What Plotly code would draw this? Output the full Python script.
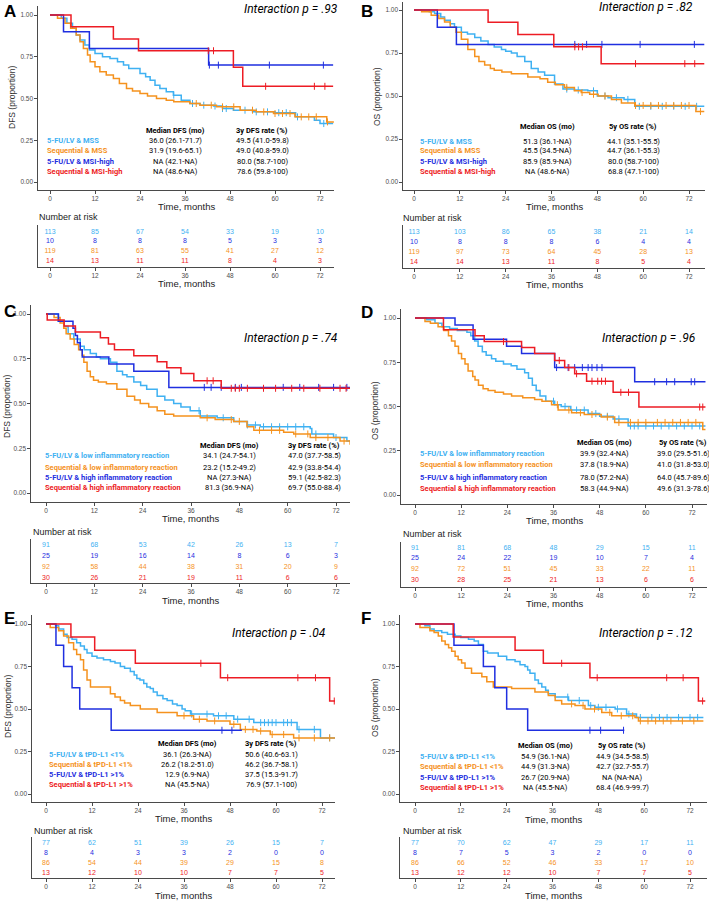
import plotly.graph_objects as go

W, H = 709, 901
LB, OR, BL, RD = '#3fb1f2', '#f5921e', '#1f2fe0', '#ed1c24'
NARROW = 'Liberation Sans Narrow, Roboto, Arial'
SANS = 'Liberation Sans, Arial'

months = [0, 12, 24, 36, 48, 60, 72]

# ---------------- A: DFS, MSS / MSI-high
a_lb_t = [0, 3, 4.5, 6, 7, 8, 9.3, 10.5, 12, 14, 16, 18, 19.6, 21, 24, 25.5, 26.7, 28, 29.3, 31, 32.9, 35, 37.3, 40, 43.6, 46, 48.9, 54, 60, 65.5, 70.5, 72, 75.5]
a_lb_s = [1, .98, .95, .92, .88, .85, .82, .79, .77, .75, .74, .72, .70, .68, .65, .63, .61, .58, .56, .54, .52, .49, .47, .46, .455, .44, .43, .42, .415, .39, .37, .35, .35]
a_lb_c = [33, 38, 41, 44, 46, 47, 52, 55, 58, 61, 63, 66, 73]
a_or_t = [0, 2, 4, 5.5, 7, 8, 8.9, 10, 10.7, 12, 13.3, 15, 16.9, 18.5, 20.4, 22, 24, 26, 28.4, 31, 33, 37.3, 40, 44.4, 50.7, 55, 59.6, 65.3, 73.8, 75.5]
a_or_s = [1, .98, .95, .92, .88, .84, .80, .76, .72, .69, .66, .64, .62, .59, .56, .545, .53, .515, .50, .49, .48, .47, .46, .45, .43, .42, .41, .39, .36, .355]
a_or_c = [39, 43, 46, 49, 54, 57, 60, 62, 64, 67, 69, 71, 74]
a_bl_t = [0, 3.6, 10.5, 42.3, 75.5]
a_bl_s = [1, .9, .8, .7, .7]
a_bl_c = [42.5, 44.9, 58.5, 72.9]
a_rd_t = [0, 5.6, 16.9, 23.6, 48.9, 51.4, 75.5]
a_rd_s = [1, .929, .857, .786, .687, .573, .573]
a_rd_c = [42.2, 43.6, 57.5, 70.5, 73.3]
a_risk_lb = [113, 85, 67, 54, 33, 19, 10]
a_risk_bl = [10, 8, 8, 8, 5, 3, 3]
a_risk_or = [119, 81, 63, 55, 41, 27, 12]
a_risk_rd = [14, 13, 11, 11, 8, 4, 3]
a_groups = ['5-FU/LV & MSS', 'Sequential & MSS', '5-FU/LV & MSI-high', 'Sequential & MSI-high']
a_median = ['36.0 (26.1-71.7)', '31.9 (19.6-65.1)', 'NA (42.1-NA)', 'NA (48.6-NA)']
a_rate = ['49.5 (41.0-59.8)', '49.0 (40.8-59.0)', '80.0 (58.7-100)', '78.6 (59.8-100)']

# ---------------- B: OS, MSS / MSI-high
b_lb_t = [0, 4, 5.4, 7, 8, 9.5, 10.6, 12.4, 14, 15.9, 17.5, 19.4, 21, 22.9, 24, 25.5, 27, 29, 30.7, 32.5, 34.2, 36.8, 39, 42, 45.5, 48, 50.8, 55, 57.8, 76]
b_lb_s = [1, .99, .98, .96, .94, .92, .90, .87, .86, .84, .82, .80, .785, .77, .76, .75, .73, .70, .66, .64, .62, .57, .54, .535, .53, .50, .49, .48, .44, .44]
b_lb_c = [40, 43, 47, 50, 53, 56, 59, 62, 65, 68, 71, 74]
b_or_t = [0, 2, 4.5, 6.5, 8, 9.5, 11, 12.4, 14.1, 15.9, 17, 18.5, 20, 21, 23, 25.5, 29.8, 33, 35, 37, 39.4, 42, 43.8, 46, 48.2, 51.7, 54.3, 57.8, 73.8, 76]
b_or_s = [1, .99, .97, .95, .93, .90, .87, .83, .77, .73, .70, .68, .66, .65, .64, .63, .61, .60, .58, .565, .55, .53, .52, .51, .50, .48, .46, .445, .41, .41]
b_or_c = [40, 44, 47, 50, 58, 60, 62, 64, 66, 68, 70, 72, 75]
b_bl_t = [0, 6.1, 11.1, 76]
b_bl_s = [1, .9, .8, .8]
b_bl_c = [42.1, 45.2, 49.2, 59.2, 73.4]
b_rd_t = [0, 19.4, 27.2, 36.6, 49, 76]
b_rd_s = [1, .929, .857, .786, .688, .688]
b_rd_c = [42.1, 43.1, 44.1, 58, 70.9, 73.5]
b_risk_lb = [113, 103, 86, 65, 38, 21, 14]
b_risk_bl = [10, 8, 8, 8, 6, 4, 4]
b_risk_or = [119, 97, 73, 64, 45, 28, 13]
b_risk_rd = [14, 14, 13, 11, 8, 5, 4]
b_median = ['51.3 (36.1-NA)', '45.5 (34.5-NA)', '85.9 (85.9-NA)', 'NA (48.6-NA)']
b_rate = ['44.1 (35.1-55.5)', '44.7 (36.1-55.3)', '80.0 (58.7-100)', '68.8 (47.1-100)']

# ---------------- C: DFS, inflammatory reaction
c_lb_t = [0, 3, 4.4, 5.5, 6.9, 8.5, 9.5, 11, 12.5, 13.5, 16, 17.6, 19, 20.1, 21.8, 23.5, 25, 27.6, 29.5, 31.7, 33.5, 35.8, 38.3, 42.5, 46.6, 50, 53.2, 58, 65.6, 66, 71.4, 74.7, 75.5]
c_lb_s = [1, .96, .93, .89, .86, .82, .80, .78, .76, .75, .73, .68, .66, .65, .62, .60, .58, .54, .52, .50, .48, .46, .43, .42, .40, .38, .37, .37, .36, .33, .31, .29, .29]
c_lb_c = [38, 44, 50, 52, 54, 56, 58, 60, 62, 64, 67, 72]
c_or_t = [0, 2, 3.5, 4.4, 5, 6, 7, 8.1, 9, 9.4, 10.2, 11, 11.8, 13, 15, 17.6, 20.1, 22, 23.4, 25.5, 27.6, 29.5, 31.7, 38.3, 42, 46.6, 49.9, 51.6, 59, 61.5, 65.6, 73, 75.5]
c_or_s = [1, .98, .95, .92, .89, .86, .83, .80, .77, .73, .68, .65, .63, .62, .61, .58, .54, .52, .50, .48, .46, .44, .43, .42, .41, .40, .37, .35, .34, .33, .31, .29, .27]
c_or_c = [40, 46, 48, 53, 56, 58, 62, 65, 67, 70, 74]
c_bl_t = [0, 3.1, 6.7, 7.3, 7.8, 8.5, 9, 15.6, 21.8, 30.5, 75.5]
c_bl_s = [1, .96, .92, .88, .84, .80, .76, .72, .68, .59, .59]
c_bl_c = [39.3, 41, 43.5, 47, 48.5, 58.9, 63, 67.7, 71.4, 74.7]
c_rd_t = [0, .3, 4.5, 7.3, 13.5, 15.5, 17, 21.8, 27.6, 30, 33.5, 36.7, 43.5, 75.5]
c_rd_s = [1, .967, .933, .90, .867, .833, .80, .767, .733, .70, .667, .627, .585, .585]
c_rd_c = [40, 41.5, 46, 47, 48, 50, 54, 57, 61, 64, 68, 73, 74.5]
c_risk_lb = [91, 68, 53, 42, 26, 13, 7]
c_risk_bl = [25, 19, 16, 14, 8, 6, 3]
c_risk_or = [92, 58, 44, 38, 31, 20, 9]
c_risk_rd = [30, 26, 21, 19, 11, 6, 6]
c_groups = ['5-FU/LV & low inflammatory reaction', 'Sequential & low inflammatory reaction',
            '5-FU/LV & high inflammatory reaction', 'Sequential & high inflammatory reaction']
c_median = ['34.1 (24.7-54.1)', '23.2 (15.2-49.2)', 'NA (27.3-NA)', '81.3 (36.9-NA)']
c_rate = ['47.0 (37.7-58.5)', '42.9 (33.8-54.4)', '59.1 (42.5-82.3)', '69.7 (55.0-88.4)']

# ---------------- D: OS, inflammatory reaction
d_lb_t = [0, 3, 5.2, 7, 9, 11, 13.5, 14.5, 15.5, 16.4, 17.5, 18.5, 19.9, 21, 23, 25, 26.5, 28.5, 29.5, 30.5, 31.5, 32.5, 34, 36.3, 38, 40.5, 45, 48, 51.5, 55.4, 75.5]
d_lb_s = [1, .99, .97, .95, .94, .93, .92, .90, .87, .84, .81, .79, .77, .755, .74, .73, .71, .69, .66, .62, .59, .56, .53, .51, .50, .48, .46, .445, .43, .39, .39]
d_lb_c = [36, 39, 42, 44, 47, 50, 53, 56, 57, 58, 60, 62, 64, 66, 68, 70, 72, 74]
d_or_t = [0, 2.6, 4, 6, 7.5, 8.7, 9.5, 10.4, 11.3, 12.1, 13, 13.8, 15, 15.6, 16.5, 17.7, 19, 20.8, 23, 25.1, 28, 31.1, 33, 35.5, 37.2, 40.7, 44, 48.4, 51.9, 74.8, 75.5]
d_or_s = [1, .98, .97, .95, .93, .90, .87, .84, .80, .77, .74, .70, .67, .65, .62, .60, .59, .58, .57, .56, .55, .54, .53, .51, .48, .465, .455, .44, .41, .37, .37]
d_or_c = [37, 40, 43, 46, 50, 53, 56, 58, 60, 63, 65, 67, 69, 71, 73]
d_bl_t = [0, 10.4, 15.1, 23.8, 27.7, 36.3, 57.1, 75.5]
d_bl_s = [1, .96, .88, .84, .80, .72, .64, .64]
d_bl_c = [36.8, 39.8, 41.5, 43.5, 45, 46, 47.3, 48.6, 62.3, 65.4, 67.5, 71.8, 72.7]
d_rd_t = [0, 7.4, 15.6, 18, 27.7, 31.1, 36.3, 38.9, 41.5, 44.6, 51.5, 58.2, 75.5]
d_rd_s = [1, .933, .90, .867, .833, .80, .76, .72, .685, .643, .58, .497, .497]
d_rd_c = [23, 37.5, 40, 42, 46, 47.5, 48.5, 49.5, 53.5, 55.5, 74, 74.8]
d_risk_lb = [91, 81, 68, 48, 29, 15, 11]
d_risk_bl = [25, 24, 22, 19, 10, 7, 4]
d_risk_or = [92, 72, 51, 45, 33, 22, 11]
d_risk_rd = [30, 28, 25, 21, 13, 6, 6]
d_median = ['39.9 (32.4-NA)', '37.8 (18.9-NA)', '78.0 (57.2-NA)', '58.3 (44.9-NA)']
d_rate = ['39.0 (29.5-51.6)', '41.0 (31.8-53.0)', '64.0 (45.7-89.6)', '49.6 (31.3-78.6)']

# ---------------- E: DFS, tPD-L1
e_lb_t = [0, 2.5, 3.3, 4.6, 5.5, 6.8, 8, 9, 10, 10.7, 12, 13.3, 15, 16.8, 18, 19.4, 20.5, 22, 23, 23.7, 24.5, 25.5, 26.3, 27.2, 28, 29, 30.5, 31.6, 33, 34.2, 35.5, 36.3, 37.7, 43.7, 49, 54.2, 65.5, 71.6, 75.5]
e_lb_s = [1, .99, .97, .94, .92, .91, .89, .87, .85, .83, .81, .80, .79, .78, .77, .75, .74, .72, .70, .68, .67, .65, .63, .62, .60, .58, .56, .55, .53, .52, .50, .49, .47, .46, .44, .42, .38, .33, .33]
e_lb_c = [38, 42, 45, 47, 50, 53, 56, 57, 58, 59, 60, 62, 63, 64, 66, 70, 74]
e_or_t = [0, 1.1, 3.3, 4.6, 5.9, 7.2, 8, 9, 9.8, 10.7, 11.6, 16.8, 18, 19.4, 20.5, 22, 24.6, 29, 34.2, 38.5, 42, 48, 50.7, 55, 58.5, 64.6, 75.5]
e_or_s = [1, .98, .96, .93, .89, .85, .82, .79, .73, .67, .63, .59, .57, .55, .535, .52, .50, .48, .46, .44, .43, .41, .38, .37, .35, .33, .33]
e_or_c = [36, 40, 44, 49, 52, 54, 56, 59, 62, 66, 70, 74]
e_bl_t = [0, 2.6, 4.6, 6.8, 8.8, 17, 51.1]
e_bl_s = [1, .875, .75, .625, .5, .375, .375]
e_bl_c = [45.9, 48.5]
e_rd_t = [0, 6.5, 12.7, 23.3, 45.5, 74, 75.5]
e_rd_s = [1, .923, .846, .769, .684, .547, .547]
e_rd_c = [40.4, 47.4, 65.7, 70.3, 75.2]
e_risk_lb = [77, 62, 51, 39, 26, 15, 7]
e_risk_bl = [8, 4, 3, 3, 2, 0, 0]
e_risk_or = [86, 54, 44, 39, 29, 15, 8]
e_risk_rd = [13, 12, 10, 10, 7, 7, 5]
e_groups = ['5-FU/LV & tPD-L1 <1%', 'Sequential & tPD-L1 <1%', '5-FU/LV & tPD-L1 >1%', 'Sequential & tPD-L1 >1%']
e_median = ['36.1 (26.3-NA)', '26.2 (18.2-51.0)', '12.9 (6.9-NA)', 'NA (45.5-NA)']
e_rate = ['50.6 (40.6-63.1)', '46.2 (36.7-58.1)', '37.5 (15.3-91.7)', '76.9 (57.1-100)']

# ---------------- F: OS, tPD-L1
f_lb_t = [0, 2.6, 3.9, 5, 7, 8.5, 10.5, 12, 14, 15.5, 16.6, 17.9, 19, 21.8, 24, 26.2, 27.5, 28.8, 29.5, 30.1, 31.4, 32.3, 33.2, 34.2, 34.9, 36.7, 40.2, 45.4, 47.1, 52.4, 55.4, 58, 75.5]
f_lb_s = [1, .99, .97, .96, .95, .94, .93, .92, .91, .90, .88, .84, .83, .81, .79, .78, .76, .75, .73, .71, .67, .65, .63, .61, .59, .57, .55, .52, .51, .50, .47, .45, .45]
f_lb_c = [40, 43, 46, 48, 50, 53, 56, 59, 62, 64, 66, 69, 72, 74]
f_or_t = [0, 1.3, 3.9, 5, 6.1, 7, 7.9, 8.8, 9.6, 10.5, 11.3, 12.2, 13.1, 14.8, 17.5, 18.8, 20.5, 25.3, 31.4, 34.9, 36.7, 38.4, 41.9, 44.5, 48.9, 51.5, 57.6, 58.5, 75.5]
f_or_s = [1, .98, .96, .95, .93, .90, .88, .86, .84, .81, .79, .77, .74, .71, .69, .66, .63, .62, .60, .58, .55, .53, .52, .50, .48, .46, .45, .43, .43]
f_or_c = [41, 44, 47, 51, 54, 57, 59, 61, 63, 65, 67, 70, 73]
f_bl_t = [0, 10.2, 17.9, 20.9, 24, 29.5, 54.8]
f_bl_s = [1, .875, .75, .625, .5, .375, .375]
f_bl_c = [45.8, 48.6, 54.6]
f_rd_t = [0, 10, 26.2, 33.6, 45.8, 74.2, 76]
f_rd_s = [1, .923, .846, .769, .684, .547, .547]
f_rd_c = [38.4, 47.7, 65.9, 70.2, 75.3]
f_risk_lb = [77, 70, 62, 47, 29, 17, 11]
f_risk_bl = [8, 7, 5, 3, 2, 0, 0]
f_risk_or = [86, 66, 52, 46, 33, 17, 10]
f_risk_rd = [13, 12, 12, 10, 7, 7, 5]
f_median = ['54.9 (36.1-NA)', '44.9 (31.3-NA)', '26.7 (20.9-NA)', 'NA (45.5-NA)']
f_rate = ['44.9 (34.5-58.5)', '42.7 (32.7-55.7)', 'NA (NA-NA)', '68.4 (46.9-99.7)']

dfs_head = ['Median DFS (mo)', '3y DFS rate (%)']
os_head = ['Median OS (mo)', '5y OS rate (%)']

panels = [
    dict(tag='A', ylab='DFS (proportion)', p='.93', head=dfs_head, groups=a_groups, median=a_median, rate=a_rate,
         curves=[(a_lb_t, a_lb_s, a_lb_c, LB), (a_or_t, a_or_s, a_or_c, OR), (a_bl_t, a_bl_s, a_bl_c, BL), (a_rd_t, a_rd_s, a_rd_c, RD)],
         risk=[a_risk_lb, a_risk_bl, a_risk_or, a_risk_rd],
         g=dict(l=38, r=334, t=6, b=190, x0=50, x72=320, y1=15, y0=182, rt=225, rb=267, r1=232, r4=261,
                let=(2, 11), inter=(340, 9), yl=(12, 98), tl1=206.5, nr=(37, 217), tl2=283,
                lx=45, hy=130, rows=[140, 151, 161, 172], c1=175, c2=262)),
    dict(tag='B', ylab='OS (proportion)', p='.82', head=os_head, groups=a_groups, median=b_median, rate=b_rate,
         curves=[(b_lb_t, b_lb_s, b_lb_c, LB), (b_or_t, b_or_s, b_or_c, OR), (b_bl_t, b_bl_s, b_bl_c, BL), (b_rd_t, b_rd_s, b_rd_c, RD)],
         risk=[b_risk_lb, b_risk_bl, b_risk_or, b_risk_rd],
         g=dict(l=403, r=705, t=2, b=190, x0=414, x72=689, y1=10, y0=182, rt=225, rb=268, r1=232, r4=262,
                let=(359, 11), inter=(695, 7), yl=(377, 96), tl1=206.5, nr=(401, 218), tl2=284,
                lx=418, hy=127, rows=[141, 151, 162, 172], c1=547, c2=633)),
    dict(tag='C', ylab='DFS (proportion)', p='.74', head=dfs_head, groups=c_groups, median=c_median, rate=c_rate,
         curves=[(c_lb_t, c_lb_s, c_lb_c, LB), (c_or_t, c_or_s, c_or_c, OR), (c_bl_t, c_bl_s, c_bl_c, BL), (c_rd_t, c_rd_s, c_rd_c, RD)],
         risk=[c_risk_lb, c_risk_bl, c_risk_or, c_risk_rd],
         g=dict(l=31, r=350, t=305, b=502, x0=46, x72=336, y1=314, y0=493, rt=539, rb=583, r1=545, r4=578,
                let=(2, 311), inter=(340, 338), yl=(7, 407), tl1=518.5, nr=(31, 532), tl2=600,
                lx=43, hy=446, rows=[456, 467, 477, 487], c1=229, c2=314)),
    dict(tag='D', ylab='OS (proportion)', p='.96', head=os_head, groups=c_groups, median=d_median, rate=d_rate,
         curves=[(d_lb_t, d_lb_s, d_lb_c, LB), (d_or_t, d_or_s, d_or_c, OR), (d_bl_t, d_bl_s, d_bl_c, BL), (d_rd_t, d_rd_s, d_rd_c, RD)],
         risk=[d_risk_lb, d_risk_bl, d_risk_or, d_risk_rd],
         g=dict(l=401, r=707, t=309, b=504, x0=415, x72=692, y1=318, y0=495, rt=542, rb=587, r1=548, r4=580,
                let=(359, 312), inter=(697, 338), yl=(375, 410), tl1=520.5, nr=(401, 534), tl2=603.5,
                lx=418, hy=442, rows=[453, 465, 477, 488], c1=604, c2=683)),
    dict(tag='E', ylab='DFS (proportion)', p='.04', head=dfs_head, groups=e_groups, median=e_median, rate=e_rate,
         curves=[(e_lb_t, e_lb_s, e_lb_c, LB), (e_or_t, e_or_s, e_or_c, OR), (e_bl_t, e_bl_s, e_bl_c, BL), (e_rd_t, e_rd_s, e_rd_c, RD)],
         risk=[e_risk_lb, e_risk_bl, e_risk_or, e_risk_rd],
         g=dict(l=32, r=335, t=615, b=802, x0=46, x72=322, y1=624, y0=794, rt=837, rb=878, r1=843, r4=873,
                let=(2, 618), inter=(328, 633), yl=(8, 707), tl1=818.5, nr=(32, 831), tl2=895.5,
                lx=47, hy=743, rows=[754, 764, 774, 784], c1=188, c2=271)),
    dict(tag='F', ylab='OS (proportion)', p='.12', head=os_head, groups=e_groups, median=f_median, rate=f_rate,
         curves=[(f_lb_t, f_lb_s, f_lb_c, LB), (f_or_t, f_or_s, f_or_c, OR), (f_bl_t, f_bl_s, f_bl_c, BL), (f_rd_t, f_rd_s, f_rd_c, RD)],
         risk=[f_risk_lb, f_risk_bl, f_risk_or, f_risk_rd],
         g=dict(l=400, r=707, t=615, b=802, x0=415, x72=690, y1=624, y0=794, rt=837, rb=878, r1=843, r4=873,
                let=(359, 618), inter=(695, 633), yl=(375, 707), tl1=819, nr=(401, 831), tl2=895.5,
                lx=418, hy=745, rows=[756, 766, 777, 787], c1=545, c2=622)),
]

RISK_COLS = [LB, BL, OR, RD]
LEG_COLS = [LB, OR, BL, RD]


def px(x):
    return x / W


def py(y):
    return 1 - y / H


def surv_at(t, s, c):
    v = s[0]
    for ti, si in zip(t, s):
        if ti <= c:
            v = si
    return v


fig = go.Figure()
layout = {}
ann = []
AX = dict(showline=True, linecolor='#4a4a4a', linewidth=1.3, ticks='outside', ticklen=2.5,
          tickcolor='#4a4a4a', tickwidth=1, showgrid=False, zeroline=False,
          tickfont=dict(family=SANS, size=6.5, color='#4d4d4d'))

for k, p in enumerate(panels):
    g = p['g']
    sx = (g['x72'] - g['x0']) / 72
    xr = [(g['l'] - g['x0']) / sx, (g['r'] - g['x0']) / sx]
    sy = g['y0'] - g['y1']
    yr = [(g['y0'] - g['b']) / sy, (g['y0'] - g['t']) / sy]
    i1, i2 = 2 * k + 1, 2 * k + 2
    n1 = '' if i1 == 1 else str(i1)
    n2 = str(i2)
    layout['xaxis' + n1] = dict(AX, domain=[px(g['l']), px(g['r'])], range=xr, anchor='y' + n1,
                               tickvals=months)
    layout['yaxis' + n1] = dict(AX, domain=[py(g['b']), py(g['t'])], range=yr, anchor='x' + n1,
                               tickvals=[0, .25, .5, .75, 1], ticktext=['0.00', '0.25', '0.50', '0.75', '1.00'])
    for t, s, c, col in p['curves']:
        fig.add_trace(go.Scatter(x=t, y=s, mode='lines', line=dict(color=col, width=1.5, shape='hv'),
                                 xaxis='x' + n1, yaxis='y' + n1, hoverinfo='skip'))
        fig.add_trace(go.Scatter(x=c, y=[surv_at(t, s, ci) for ci in c], mode='markers',
                                 marker=dict(symbol='line-ns', size=5, line=dict(color=col, width=1)),
                                 xaxis='x' + n1, yaxis='y' + n1, hoverinfo='skip'))

    # risk table axes
    rs = (g['r4'] - g['r1']) / 3
    ryr = [1 - (g['rb'] - g['r4']) / rs, 4 + (g['r1'] - g['rt']) / rs]
    layout['xaxis' + n2] = dict(AX, domain=[px(g['l']), px(g['r'])], range=xr, anchor='y' + n2,
                               tickvals=months)
    layout['yaxis' + n2] = dict(showline=True, linecolor='#4a4a4a', linewidth=1.3, showgrid=False,
                               zeroline=False, showticklabels=False, ticks='',
                               domain=[py(g['rb']), py(g['rt'])], range=ryr, anchor='x' + n2)
    for j, (vals, col) in enumerate(zip(p['risk'], RISK_COLS)):
        fig.add_trace(go.Scatter(x=months, y=[4 - j] * len(months), mode='text', text=[str(v) for v in vals],
                                 textfont=dict(family=SANS, size=7, color=col),
                                 xaxis='x' + n2, yaxis='y' + n2, hoverinfo='skip'))

    xc = (g['l'] + g['r']) / 2
    ann.append(dict(x=px(g['let'][0]), y=py(g['let'][1]), text='<b>%s</b>' % p['tag'], xanchor='left',
                    font=dict(family=SANS, size=17, color='black')))
    ann.append(dict(x=px(g['inter'][0]), y=py(g['inter'][1]), text='<i>Interaction p = %s</i>' % p['p'],
                    xanchor='right', font=dict(family=NARROW, size=12, color='black')))
    ann.append(dict(x=px(g['yl'][0]), y=py(g['yl'][1]), text=p['ylab'], textangle=-90,
                    font=dict(family=SANS, size=8.5, color='#333')))
    ann.append(dict(x=px(xc), y=py(g['tl1']), text='Time, months', font=dict(family=SANS, size=9.5, color='#222')))
    ann.append(dict(x=px(xc), y=py(g['tl2']), text='Time, months', font=dict(family=SANS, size=9.5, color='#222')))
    ann.append(dict(x=px(g['nr'][0]), y=py(g['nr'][1]), text='Number at risk', xanchor='left',
                    font=dict(family=SANS, size=9, color='#222')))
    ann.append(dict(x=px(g['c1']), y=py(g['hy']), text='<b>%s</b>' % p['head'][0],
                    font=dict(family=NARROW, size=7.5, color='black')))
    ann.append(dict(x=px(g['c2']), y=py(g['hy']), text='<b>%s</b>' % p['head'][1],
                    font=dict(family=NARROW, size=7.5, color='black')))
    for j in range(4):
        ry = py(g['rows'][j])
        ann.append(dict(x=px(g['lx']), y=ry, text='<b>%s</b>' % p['groups'][j], xanchor='left',
                        font=dict(family=NARROW, size=7.5, color=LEG_COLS[j])))
        ann.append(dict(x=px(g['c1']), y=ry, text=p['median'][j], font=dict(family=NARROW, size=7.5, color='black')))
        ann.append(dict(x=px(g['c2']), y=ry, text=p['rate'][j], font=dict(family=NARROW, size=7.5, color='black')))

for a in ann:
    a.update(xref='paper', yref='paper', showarrow=False, yanchor='middle')
    a.setdefault('xanchor', 'center')

fig.update_layout(width=W, height=H, margin=dict(l=0, r=0, t=0, b=0), showlegend=False,
                  paper_bgcolor='white', plot_bgcolor='white', annotations=ann, **layout)
# the page's default 8px body margin would push the figure off the 709x901 window
fig.write_html("out.html", config={'displayModeBar': False},
               post_script="document.body.style.margin='0';document.body.style.overflow='hidden';")
